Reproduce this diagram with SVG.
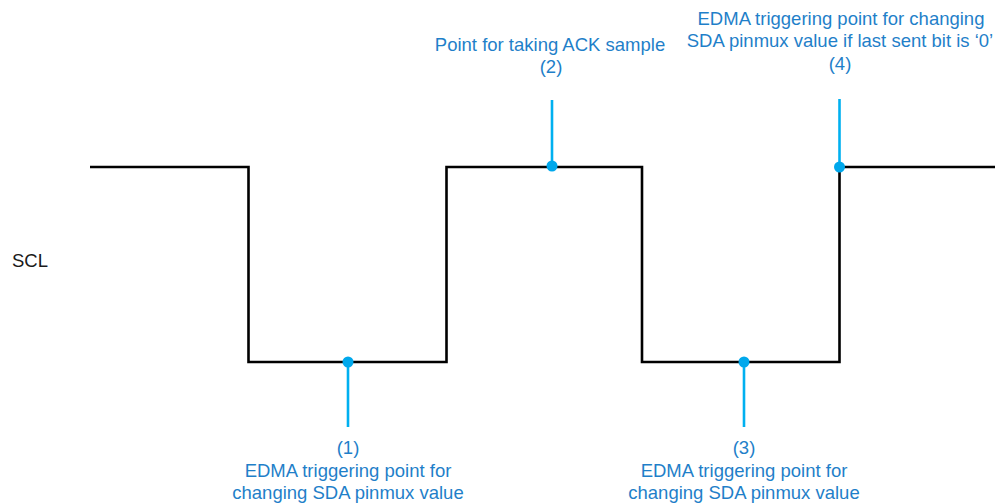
<svg xmlns="http://www.w3.org/2000/svg" width="998" height="504" viewBox="0 0 998 504">
<style>
.lbl{font-family:"Liberation Sans",Arial,sans-serif;font-size:18.5px;fill:#1f7fc9;text-anchor:middle}
.sig{font-family:"Liberation Sans",Arial,sans-serif;font-size:18.5px;fill:#1a1a1a}
.wave{fill:none;stroke:#000;stroke-width:2.6;stroke-linejoin:miter}
.mk{stroke:#00b0f0;stroke-width:2.6;fill:none}
.dot{fill:#00a8ec}
</style>
<rect width="998" height="504" fill="#fff"/>
<g id="scl-label"><text class="sig" x="12" y="266.5">SCL</text></g>
<g id="connectors">
<path class="wave" d="M90,167 H248.5 V362 H446.5 V167 H642 V362 H839.5 V167 H995"/>
<line class="mk" x1="348" y1="362" x2="348" y2="427"/>
<line class="mk" x1="552" y1="100" x2="552" y2="166"/>
<line class="mk" x1="744" y1="362" x2="744" y2="427"/>
<line class="mk" x1="839.5" y1="99" x2="839.5" y2="167"/>
</g>
<g id="p1">
<circle class="dot" cx="348" cy="362" r="5.5"/>
<text class="lbl" x="348" y="454">(1)</text>
<text class="lbl" x="348" y="476.5">EDMA triggering point for</text>
<text class="lbl" x="348" y="498.5">changing SDA pinmux value</text>
</g>
<g id="p2">
<circle class="dot" cx="552" cy="166" r="5.5"/>
<text class="lbl" x="550" y="50.5">Point for taking ACK sample</text>
<text class="lbl" x="551" y="72.5">(2)</text>
</g>
<g id="p3">
<circle class="dot" cx="744" cy="362" r="5.5"/>
<text class="lbl" x="744" y="454">(3)</text>
<text class="lbl" x="744" y="476.5">EDMA triggering point for</text>
<text class="lbl" x="744" y="498.5">changing SDA pinmux value</text>
</g>
<g id="p4">
<circle class="dot" cx="839.5" cy="167" r="5.5"/>
<text class="lbl" x="841" y="25">EDMA triggering point for changing</text>
<text class="lbl" x="840" y="47">SDA pinmux value if last sent bit is ‘0’</text>
<text class="lbl" x="840" y="69.5">(4)</text>
</g>
</svg>
